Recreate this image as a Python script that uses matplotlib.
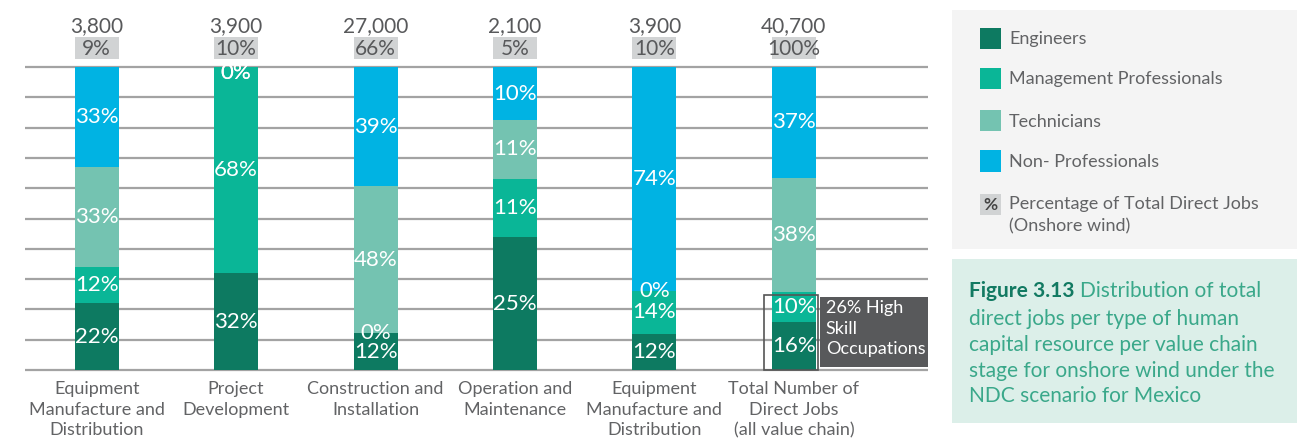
import matplotlib
matplotlib.use("Agg")
import matplotlib.pyplot as plt
from matplotlib.patches import Rectangle
import numpy as np

# ---------------- data ----------------
categories = ["Equipment\nManufacture and\nDistribution", "Project\nDevelopment",
              "Construction and\nInstallation", "Operation and\nMaintenance",
              "Equipment\nManufacture and\nDistribution",
              "Total Number of\nDirect Jobs\n(all value chain)"]
series_names = ["Engineers", "Management Professionals", "Technicians", "Non- Professionals"]
engineers = [22, 32, 12, 25, 12, 16]
management = [12, 68, 0, 11, 14, 10]
technicians = [33, 0, 48, 11, 0, 38]
non_professionals = [33, 0, 39, 10, 74, 37]
total_jobs = ["3,800", "3,900", "27,000", "2,100", "3,900", "40,700"]
share_of_total = ["9%", "10%", "66%", "5%", "10%", "100%"]
percent_legend = "Percentage of Total Direct Jobs\n(Onshore wind)"
high_skill_label = "26% High\nSkill\nOccupations"
caption_bold = "Figure 3.13"
caption_line1 = "Distribution of total"
caption_rest = ("direct jobs per type of human\ncapital resource per value chain\n"
                "stage for onshore wind under the\nNDC scenario for Mexico")

# ---------------- style ----------------
colors = ["#0d7a61", "#0ab697", "#74c3b1", "#00b3e3"]
text_gray = "#58595b"
light_gray_text = "#626365"
box_gray = "#d1d3d4"
grid_gray = "#a3a3a3"
plt.rcParams["font.family"] = ["Lato", "DejaVu Sans"]

W, H = 1297, 441
fig = plt.figure(figsize=(W / 100, H / 100), dpi=100)
fig.patch.set_facecolor("white")

def fx(px):
    return px / W

def fy(py):
    return 1 - py / H

ax = fig.add_axes([fx(25), fy(370), fx(928) - fx(25), fy(67) - fy(370)])
x = np.arange(len(categories))
bar_w = 0.315
ax.set_xlim(-0.514, 5.962)
ax.set_ylim(0, 100)
for s in ax.spines.values():
    s.set_visible(False)
ax.set_yticks([])
ax.tick_params(axis="x", length=0, pad=8)
ax.set_xticks(x)
ax.set_xticklabels(categories, fontsize=13, color=light_gray_text, linespacing=1.36)

# gridlines
ax.hlines(np.arange(0, 101, 10), -0.514, 5.962, colors=grid_gray, lw=1.6,
          zorder=0, clip_on=False)

# stacked, normalised bars
data = np.array([engineers, management, technicians, non_professionals], dtype=float)
heights = data / data.sum(axis=0) * 100
bottom = np.zeros(len(categories))
for i, (name, col) in enumerate(zip(series_names, colors)):
    ax.bar(x, heights[i], bar_w, bottom=bottom, color=col, zorder=2, label=name)
    for j in range(len(categories)):
        yl = min(bottom[j] + heights[i][j] / 2, 98.0)
        ax.text(x[j], yl, f"{int(data[i][j])}%", ha="center", va="center",
                color="white", fontsize=16, zorder=4)
    bottom += heights[i]

# top labels
for j in range(len(categories)):
    ax.text(x[j], 113.6, total_jobs[j], ha="center", va="center", color=text_gray,
            fontsize=15, clip_on=False)
    ax.add_patch(Rectangle((x[j] - bar_w / 2, 102.6), bar_w, 7.2, facecolor=box_gray,
                           edgecolor="none", clip_on=False))
    ax.text(x[j], 106.0, share_of_total[j], ha="center", va="center", color=text_gray,
            fontsize=15, clip_on=False)

# high skill annotation around total bar
last = len(categories) - 1
hs_top = heights[0][last] + heights[1][last]
ax.add_patch(Rectangle((x[last] - 0.215, 0), 0.385, hs_top - 1.0, facecolor="none",
                       edgecolor="#555555", lw=1.2, zorder=5, clip_on=False))
ax.add_patch(Rectangle((x[last] + 0.19, 1.0), 0.775, hs_top - 2.6, facecolor="#58595b",
                       edgecolor="none", zorder=5, clip_on=False))
ax.text(x[last] + 0.228, hs_top - 2.6, high_skill_label, ha="left", va="top",
        color="white", fontsize=13, linespacing=1.36, zorder=6, clip_on=False)

# ---------------- legend panel ----------------
fig.patches.append(Rectangle((fx(952), fy(249)), 1 - fx(952), fy(10) - fy(249),
                             transform=fig.transFigure, facecolor="#f4f4f4",
                             edgecolor="none", zorder=0))
row_y = [38, 78, 121, 161]
for name, col, ry in zip(series_names, colors, row_y):
    fig.patches.append(Rectangle((fx(980), fy(ry + 10.5)), fx(21), 21 / H,
                                 transform=fig.transFigure, facecolor=col,
                                 edgecolor="none", zorder=1))
    fig.text(fx(1009), fy(ry + 1), name, ha="left", va="center", color=light_gray_text,
             fontsize=13)
fig.patches.append(Rectangle((fx(980), fy(215)), fx(21), 21 / H,
                             transform=fig.transFigure, facecolor=box_gray,
                             edgecolor="none", zorder=1))
fig.text(fx(990.5), fy(204.5), "%", ha="center", va="center", color="#444444",
         fontsize=12.5, fontweight="bold")
fig.text(fx(1009), fy(196), percent_legend, ha="left", va="top", color=light_gray_text,
         fontsize=13, linespacing=1.5)

# ---------------- caption panel ----------------
fig.patches.append(Rectangle((fx(952), fy(423)), 1 - fx(952), fy(259) - fy(423),
                             transform=fig.transFigure, facecolor="#dcefe9",
                             edgecolor="none", zorder=0))
t1 = fig.text(fx(969), fy(297), caption_bold, ha="left", va="baseline",
              color="#127a62", fontsize=15, fontweight="bold")
renderer = fig.canvas.get_renderer()
bb = t1.get_window_extent(renderer=renderer)
fig.text(bb.x1 / W + 5 / W, fy(297), caption_line1, ha="left", va="baseline",
         color="#3aa88a", fontsize=15)
fig.text(fx(969), fy(309), caption_rest, ha="left", va="top", color="#3aa88a",
         fontsize=15, linespacing=1.36)

fig.savefig("out.png", dpi=100)
